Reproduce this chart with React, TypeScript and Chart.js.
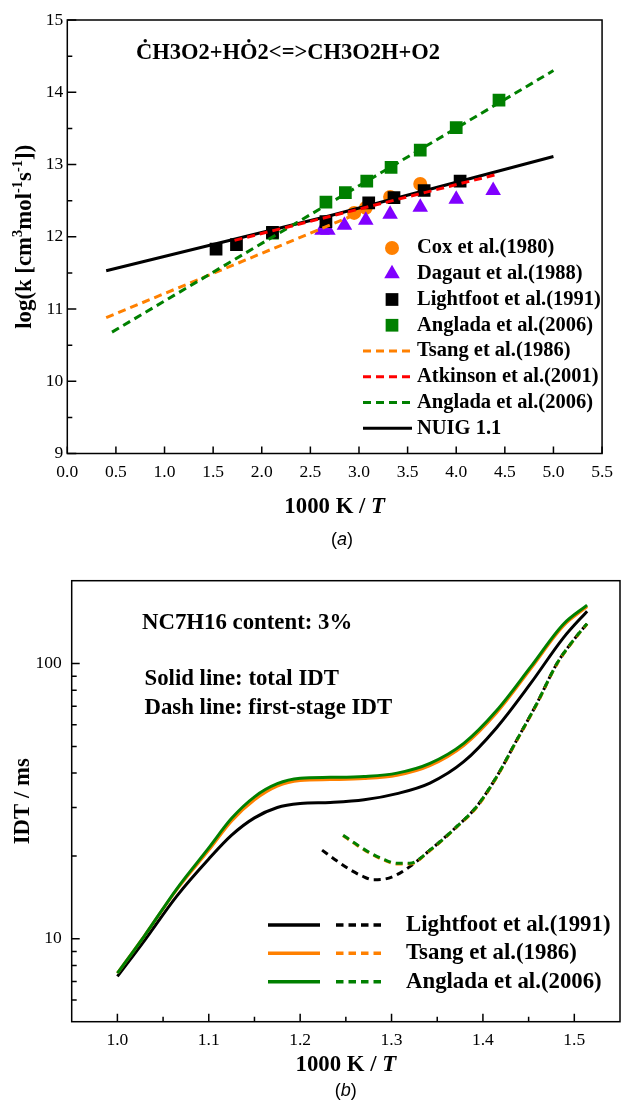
import React, { useEffect, useRef } from 'react';
import { Chart, registerables } from 'chart.js';

Chart.register(...registerables);

const SERIF = "'Liberation Serif', 'Times New Roman', Times, serif";
const SANS = "'Liberation Sans', Arial, Helvetica, sans-serif";

const ORANGE = '#FF8000';
const VIOLET = '#8000FF';
const GREEN = '#008000';
const RED = '#FF0000';
const BLACK = '#000000';

// ---------------- Panel (a) data ----------------
const coxX = [2.95, 3.07, 3.32, 3.63];
const coxY = [12.33, 12.4, 12.55, 12.73];
const dagautX = [2.62, 2.68, 2.85, 3.07, 3.32, 3.63, 4.0, 4.38];
const dagautY = [12.09, 12.09, 12.16, 12.23, 12.31, 12.41, 12.52, 12.64];
const lightfootX = [1.53, 1.74, 2.11, 2.66, 3.1, 3.36, 3.67, 4.04];
const lightfootY = [11.83, 11.89, 12.06, 12.21, 12.47, 12.54, 12.64, 12.77];
const angladaPtsX = [2.11, 2.66, 2.86, 3.08, 3.33, 3.63, 4.0, 4.44];
const angladaPtsY = [12.05, 12.48, 12.61, 12.77, 12.96, 13.2, 13.51, 13.89];
const tsangLineX = [0.4, 2.95];
const tsangLineY = [10.88, 12.3];
const atkinsonLineX = [1.72, 4.44];
const atkinsonLineY = [11.95, 12.87];
const angladaLineX = [0.46, 5.0];
const angladaLineY = [10.68, 14.3];
const nuigLineX = [0.4, 2.7, 5.0];
const nuigLineY = [11.53, 12.29, 13.11];

const aXTicks = [0, 0.5, 1, 1.5, 2, 2.5, 3, 3.5, 4, 4.5, 5, 5.5];
const aXTickLabels = ['0.0', '0.5', '1.0', '1.5', '2.0', '2.5', '3.0', '3.5', '4.0', '4.5', '5.0', '5.5'];
const aYTicks = [9, 10, 11, 12, 13, 14, 15];
const aYTickLabels = ['9', '10', '11', '12', '13', '14', '15'];
const aYMinorTicks = [9.5, 10.5, 11.5, 12.5, 13.5, 14.5];

// ---------------- Panel (b) data ----------------
const totalX = [1.0, 1.03, 1.065, 1.1, 1.125, 1.15, 1.175, 1.2, 1.233, 1.27, 1.306, 1.342, 1.379, 1.415, 1.452, 1.488, 1.514];
const lightfootTotal = [7.3, 9.9, 14.3, 19.5, 23.8, 27.5, 30.0, 31.0, 31.3, 32.0, 33.7, 36.8, 44.0, 58.5, 84.5, 124, 155];
const tsangTotal = [7.5, 10.3, 15.1, 21.0, 26.8, 32.0, 35.9, 37.6, 37.9, 38.2, 39.3, 42.6, 50.4, 66.3, 95.5, 137, 161];
const angladaTotal = [7.5, 10.3, 15.2, 21.4, 27.4, 32.8, 36.6, 38.3, 38.6, 38.9, 40.0, 43.4, 51.3, 67.5, 97, 139, 163];

const lightfootFirstX = [1.224, 1.24, 1.255, 1.268, 1.28, 1.293, 1.306, 1.32, 1.342, 1.371, 1.393, 1.415, 1.437, 1.459, 1.481, 1.499, 1.514];
const lightfootFirst = [21.0, 19.2, 17.8, 16.9, 16.4, 16.5, 17.1, 18.3, 21.0, 25.5, 30.2, 38.8, 52.7, 71.6, 100, 121.5, 139.7];
const tsangFirstX = [1.247, 1.262, 1.277, 1.292, 1.306, 1.32, 1.342, 1.371, 1.393, 1.415, 1.437, 1.459, 1.481, 1.499, 1.514];
const tsangFirst = [23.7, 21.9, 20.4, 19.3, 18.7, 18.7, 20.9, 25.4, 30.0, 38.6, 52.4, 71.2, 99.5, 121, 139.2];
const angladaFirstX = [1.247, 1.262, 1.277, 1.292, 1.306, 1.32, 1.342, 1.371, 1.393, 1.415, 1.437, 1.459, 1.481, 1.499, 1.514];
const angladaFirst = [23.8, 22.0, 20.5, 19.4, 18.8, 18.8, 21.0, 25.5, 30.2, 38.8, 52.7, 71.6, 100, 121.5, 139.7];

const bXTicks = [1.0, 1.1, 1.2, 1.3, 1.4, 1.5];
const bXTickLabels = ['1.0', '1.1', '1.2', '1.3', '1.4', '1.5'];
const bXMinorTicks = [1.05, 1.15, 1.25, 1.35, 1.45];
const bYTicks = [10, 100];
const bYTickLabels = ['10', '100'];
const bYMinorTicks = [6, 7, 8, 9, 20, 30, 40, 50, 60, 70, 80, 90];

// ---------------- helpers ----------------
const pts = (xs: number[], ys: number[]) => xs.map((x, i) => ({ x, y: ys[i] }));

type Run = { text: string; font: string; rise?: number };

function textWidth(ctx: CanvasRenderingContext2D, runs: Run[]) {
  let w = 0;
  for (const r of runs) {
    ctx.font = r.font;
    w += ctx.measureText(r.text).width;
  }
  return w;
}

function drawRuns(
  ctx: CanvasRenderingContext2D,
  runs: Run[],
  x: number,
  y: number,
  align: 'left' | 'center',
  rotate = false
) {
  ctx.save();
  ctx.translate(x, y);
  if (rotate) ctx.rotate(-Math.PI / 2);
  const total = textWidth(ctx, runs);
  let cx = align === 'center' ? -total / 2 : 0;
  ctx.textAlign = 'left';
  ctx.textBaseline = 'middle';
  ctx.fillStyle = '#000';
  for (const r of runs) {
    ctx.font = r.font;
    ctx.fillText(r.text, cx, -(r.rise || 0));
    cx += ctx.measureText(r.text).width;
  }
  ctx.restore();
}

function drawMarker(ctx: CanvasRenderingContext2D, style: string, x: number, y: number, r: number, color: string) {
  ctx.save();
  ctx.fillStyle = color;
  ctx.beginPath();
  if (style === 'circle') {
    ctx.arc(x, y, r, 0, Math.PI * 2);
  } else if (style === 'rect') {
    const s = r * Math.SQRT1_2;
    ctx.rect(x - s, y - s, 2 * s, 2 * s);
  } else if (style === 'triangle') {
    ctx.moveTo(x, y - r);
    ctx.lineTo(x + r * Math.sin(Math.PI / 3), y + r / 2);
    ctx.lineTo(x - r * Math.sin(Math.PI / 3), y + r / 2);
    ctx.closePath();
  }
  ctx.fill();
  ctx.restore();
}

function drawLineSample(ctx: CanvasRenderingContext2D, x0: number, x1: number, y: number, color: string, dash: number[], w: number) {
  ctx.save();
  ctx.strokeStyle = color;
  ctx.lineWidth = w;
  ctx.setLineDash(dash);
  ctx.beginPath();
  ctx.moveTo(x0, y);
  ctx.lineTo(x1, y);
  ctx.stroke();
  ctx.restore();
}

function drawFrameAndTicks(
  chart: any,
  xMajor: number[],
  xMinor: number[],
  yMajor: number[],
  yMinor: number[],
  len: { xMaj: number; xMin: number; yMaj: number; yMin: number }
) {
  const ctx: CanvasRenderingContext2D = chart.ctx;
  const { left, right, top, bottom } = chart.chartArea;
  const xs = chart.scales.x;
  const ys = chart.scales.y;
  ctx.save();
  ctx.strokeStyle = '#000';
  ctx.lineWidth = 1.5;
  ctx.setLineDash([]);
  ctx.beginPath();
  for (const v of xMajor) {
    const p = xs.getPixelForValue(v);
    ctx.moveTo(p, bottom);
    ctx.lineTo(p, bottom - len.xMaj);
  }
  for (const v of xMinor) {
    const p = xs.getPixelForValue(v);
    ctx.moveTo(p, bottom);
    ctx.lineTo(p, bottom - len.xMin);
  }
  for (const v of yMajor) {
    const p = ys.getPixelForValue(v);
    ctx.moveTo(left, p);
    ctx.lineTo(left + len.yMaj, p);
  }
  for (const v of yMinor) {
    const p = ys.getPixelForValue(v);
    ctx.moveTo(left, p);
    ctx.lineTo(left + len.yMin, p);
  }
  ctx.stroke();
  ctx.strokeRect(left, top, right - left, bottom - top);
  ctx.restore();
}

const B = (size: number) => `bold ${size}px ${SERIF}`;
const BI = (size: number) => `italic bold ${size}px ${SERIF}`;
const TITLE = 22.8;
const TICK = 17.5;

// ---------------- Panel (a) ----------------
function makeTopChart(canvas: HTMLCanvasElement) {
  const lineDs = (label: string, xs: number[], ys: number[], color: string, dash: number[]) => ({
    label,
    data: pts(xs, ys),
    showLine: true,
    borderColor: color,
    backgroundColor: color,
    borderWidth: 3,
    borderDash: dash,
    pointRadius: 0,
    pointHoverRadius: 0,
    tension: 0,
  });
  const markDs = (label: string, xs: number[], ys: number[], color: string, style: string, r: number) => ({
    label,
    data: pts(xs, ys),
    showLine: false,
    pointStyle: style,
    pointRadius: r,
    pointHoverRadius: r,
    backgroundColor: color,
    borderColor: color,
    borderWidth: 0,
    pointBorderWidth: 0,
  });

  const legendItems = [
    { kind: 'mark', style: 'circle', r: 7, color: ORANGE, text: 'Cox et al.(1980)' },
    { kind: 'mark', style: 'triangle', r: 9, color: VIOLET, text: 'Dagaut et al.(1988)' },
    { kind: 'mark', style: 'rect', r: 9, color: BLACK, text: 'Lightfoot et al.(1991)' },
    { kind: 'mark', style: 'rect', r: 9, color: GREEN, text: 'Anglada et al.(2006)' },
    { kind: 'dash', color: ORANGE, text: 'Tsang et al.(1986)' },
    { kind: 'dash', color: RED, text: 'Atkinson et al.(2001)' },
    { kind: 'dash', color: GREEN, text: 'Anglada et al.(2006)' },
    { kind: 'solid', color: BLACK, text: 'NUIG 1.1' },
  ];

  const decor = {
    id: 'decorA',
    afterDraw(chart: any) {
      const ctx: CanvasRenderingContext2D = chart.ctx;
      const { left, right, top, bottom } = chart.chartArea;
      drawFrameAndTicks(chart, aXTicks, [], aYTicks, aYMinorTicks, { xMaj: 7, xMin: 4, yMaj: 9, yMin: 5 });

      // reaction title
      drawRuns(ctx, [{ text: 'ĊH3O2+HȮ2<=>CH3O2H+O2', font: B(22.5) }], 136, 52.7, 'left');

      // legend
      const rowY0 = 248;
      const rowDy = 25.75;
      legendItems.forEach((it, i) => {
        const y = rowY0 + i * rowDy;
        if (it.kind === 'mark') drawMarker(ctx, it.style as string, 392, y, it.r as number, it.color);
        else if (it.kind === 'dash') drawLineSample(ctx, 363, 412, y, it.color, [8, 5], 3);
        else drawLineSample(ctx, 363, 412, y, it.color, [], 3);
        drawRuns(ctx, [{ text: it.text, font: B(20.5) }], 417, y, 'left');
      });

      // axis titles
      drawRuns(
        ctx,
        [
          { text: '1000 K / ', font: B(TITLE) },
          { text: 'T', font: BI(TITLE) },
        ],
        (left + right) / 2,
        506.7,
        'center'
      );
      drawRuns(
        ctx,
        [
          { text: 'log(k [cm', font: B(TITLE) },
          { text: '3', font: B(14.5), rise: 6.5 },
          { text: 'mol', font: B(TITLE) },
          { text: '-1', font: B(14.5), rise: 6.5 },
          { text: 's', font: B(TITLE) },
          { text: '-1', font: B(14.5), rise: 6.5 },
          { text: '])', font: B(TITLE) },
        ],
        25,
        (top + bottom) / 2,
        'center',
        true
      );
      // caption
      drawRuns(
        ctx,
        [
          { text: '(', font: `18px ${SANS}` },
          { text: 'a', font: `italic 18px ${SANS}` },
          { text: ')', font: `18px ${SANS}` },
        ],
        342,
        540,
        'center'
      );
    },
  };

  return new Chart(canvas, {
    type: 'scatter',
    data: {
      datasets: [
        lineDs('Atkinson et al.(2001)', atkinsonLineX, atkinsonLineY, RED, [8, 5]),
        lineDs('Anglada et al.(2006) fit', angladaLineX, angladaLineY, GREEN, [8, 5]),
        lineDs('Tsang et al.(1986)', tsangLineX, tsangLineY, ORANGE, [8, 5]),
        lineDs('NUIG 1.1', nuigLineX, nuigLineY, BLACK, []),
        markDs('Lightfoot et al.(1991)', lightfootX, lightfootY, BLACK, 'rect', 9),
        markDs('Anglada et al.(2006)', angladaPtsX, angladaPtsY, GREEN, 'rect', 9),
        markDs('Dagaut et al.(1988)', dagautX, dagautY, VIOLET, 'triangle', 9),
        markDs('Cox et al.(1980)', coxX, coxY, ORANGE, 'circle', 7),
      ] as any,
    },
    options: {
      responsive: false,
      animation: false,
      events: [],
      layout: { padding: { left: 0, right: 13.7, top: 20, bottom: 0 } },
      plugins: { legend: { display: false }, tooltip: { enabled: false }, title: { display: false } },
      scales: {
        x: {
          type: 'linear',
          min: 0,
          max: 5.5,
          afterBuildTicks: (s: any) => {
            s.ticks = aXTicks.map((v) => ({ value: v }));
          },
          afterFit: (s: any) => {
            s.height = 106.5;
          },
          grid: { display: false, drawTicks: false },
          border: { display: false },
          ticks: {
            autoSkip: false,
            maxRotation: 0,
            padding: 8,
            color: '#000',
            font: { family: SERIF, size: TICK },
            callback: (_v: any, i: number) => aXTickLabels[i],
          },
        },
        y: {
          type: 'linear',
          min: 9,
          max: 15,
          afterBuildTicks: (s: any) => {
            s.ticks = aYTicks.map((v) => ({ value: v }));
          },
          afterFit: (s: any) => {
            s.width = 67.3;
          },
          grid: { display: false, drawTicks: false },
          border: { display: false },
          ticks: {
            autoSkip: false,
            padding: 4,
            color: '#000',
            font: { family: SERIF, size: TICK },
            callback: (_v: any, i: number) => aYTickLabels[i],
          },
        },
      },
    } as any,
    plugins: [decor],
  });
}

// ---------------- Panel (b) ----------------
function makeBottomChart(canvas: HTMLCanvasElement) {
  const ds = (label: string, xs: number[], ys: number[], color: string, dash: number[]) => ({
    label,
    data: pts(xs, ys),
    showLine: true,
    borderColor: color,
    backgroundColor: color,
    borderWidth: 3,
    borderDash: dash,
    pointRadius: 0,
    pointHoverRadius: 0,
    cubicInterpolationMode: 'monotone',
  });
  const DASH = [7, 5];

  const legendRows = [
    { color: BLACK, text: 'Lightfoot et al.(1991)' },
    { color: ORANGE, text: 'Tsang et al.(1986)' },
    { color: GREEN, text: 'Anglada et al.(2006)' },
  ];

  const decor = {
    id: 'decorB',
    afterDraw(chart: any) {
      const ctx: CanvasRenderingContext2D = chart.ctx;
      const { left, right, top, bottom } = chart.chartArea;
      drawFrameAndTicks(chart, bXTicks, bXMinorTicks, bYTicks, bYMinorTicks, { xMaj: 8, xMin: 5, yMaj: 8, yMin: 5 });

      drawRuns(ctx, [{ text: 'NC7H16 content: 3%', font: B(TITLE) }], 142, 63.3, 'left');
      drawRuns(ctx, [{ text: 'Solid line: total IDT', font: B(TITLE) }], 144.5, 119.5, 'left');
      drawRuns(ctx, [{ text: 'Dash line: first-stage IDT', font: B(TITLE) }], 144.5, 148.3, 'left');

      const y0 = 365;
      const dy = 28.35;
      legendRows.forEach((r, i) => {
        const y = y0 + i * dy;
        drawLineSample(ctx, 268, 320, y, r.color, [], 3.5);
        drawLineSample(ctx, 336, 385, y, r.color, [7.5, 5], 3.5);
        drawRuns(ctx, [{ text: r.text, font: B(TITLE) }], 406, y, 'left');
      });

      drawRuns(
        ctx,
        [
          { text: '1000 K / ', font: B(TITLE) },
          { text: 'T', font: BI(TITLE) },
        ],
        (left + right) / 2,
        505,
        'center'
      );
      drawRuns(ctx, [{ text: 'IDT / ms', font: B(TITLE) }], 23, (top + bottom) / 2, 'center', true);
      drawRuns(
        ctx,
        [
          { text: '(', font: `18px ${SANS}` },
          { text: 'b', font: `italic 18px ${SANS}` },
          { text: ')', font: `18px ${SANS}` },
        ],
        345.8,
        531,
        'center'
      );
    },
  };

  return new Chart(canvas, {
    type: 'scatter',
    data: {
      datasets: [
        ds('Anglada et al.(2006) first', angladaFirstX, angladaFirst, GREEN, DASH),
        ds('Anglada et al.(2006) total', totalX, angladaTotal, GREEN, []),
        ds('Tsang et al.(1986) first', tsangFirstX, tsangFirst, ORANGE, DASH),
        ds('Tsang et al.(1986) total', totalX, tsangTotal, ORANGE, []),
        ds('Lightfoot et al.(1991) first', lightfootFirstX, lightfootFirst, BLACK, DASH),
        ds('Lightfoot et al.(1991) total', totalX, lightfootTotal, BLACK, []),
      ] as any,
    },
    options: {
      responsive: false,
      animation: false,
      events: [],
      layout: { padding: { left: 0, right: 1, top: 20.7, bottom: 0 } },
      plugins: { legend: { display: false }, tooltip: { enabled: false }, title: { display: false } },
      scales: {
        x: {
          type: 'linear',
          min: 0.95,
          max: 1.55,
          afterBuildTicks: (s: any) => {
            s.ticks = bXTicks.map((v) => ({ value: v }));
          },
          afterFit: (s: any) => {
            s.height = 82.3;
          },
          grid: { display: false, drawTicks: false },
          border: { display: false },
          ticks: {
            autoSkip: false,
            maxRotation: 0,
            padding: 8,
            color: '#000',
            font: { family: SERIF, size: TICK },
            callback: (_v: any, i: number) => bXTickLabels[i],
          },
        },
        y: {
          type: 'logarithmic',
          min: 5,
          max: 200,
          afterBuildTicks: (s: any) => {
            s.ticks = bYTicks.map((v) => ({ value: v }));
          },
          afterFit: (s: any) => {
            s.width = 71.7;
          },
          grid: { display: false, drawTicks: false },
          border: { display: false },
          ticks: {
            autoSkip: false,
            padding: 10,
            color: '#000',
            font: { family: SERIF, size: TICK },
            callback: (_v: any, i: number) => bYTickLabels[i],
          },
        },
      },
    } as any,
    plugins: [decor],
  });
}

export default function App() {
  const topRef = useRef<HTMLCanvasElement | null>(null);
  const botRef = useRef<HTMLCanvasElement | null>(null);

  useEffect(() => {
    const c1 = topRef.current ? makeTopChart(topRef.current) : null;
    const c2 = botRef.current ? makeBottomChart(botRef.current) : null;
    return () => {
      c1?.destroy();
      c2?.destroy();
    };
  }, []);

  return (
    <div style={{ position: 'absolute', left: 0, top: 0, width: 621, height: 1104, background: '#fff', overflow: 'hidden' }}>
      <canvas ref={topRef} width={621} height={560} style={{ position: 'absolute', left: 0, top: 0, width: 621, height: 560 }} />
      <canvas ref={botRef} width={621} height={544} style={{ position: 'absolute', left: 0, top: 560, width: 621, height: 544 }} />
    </div>
  );
}
